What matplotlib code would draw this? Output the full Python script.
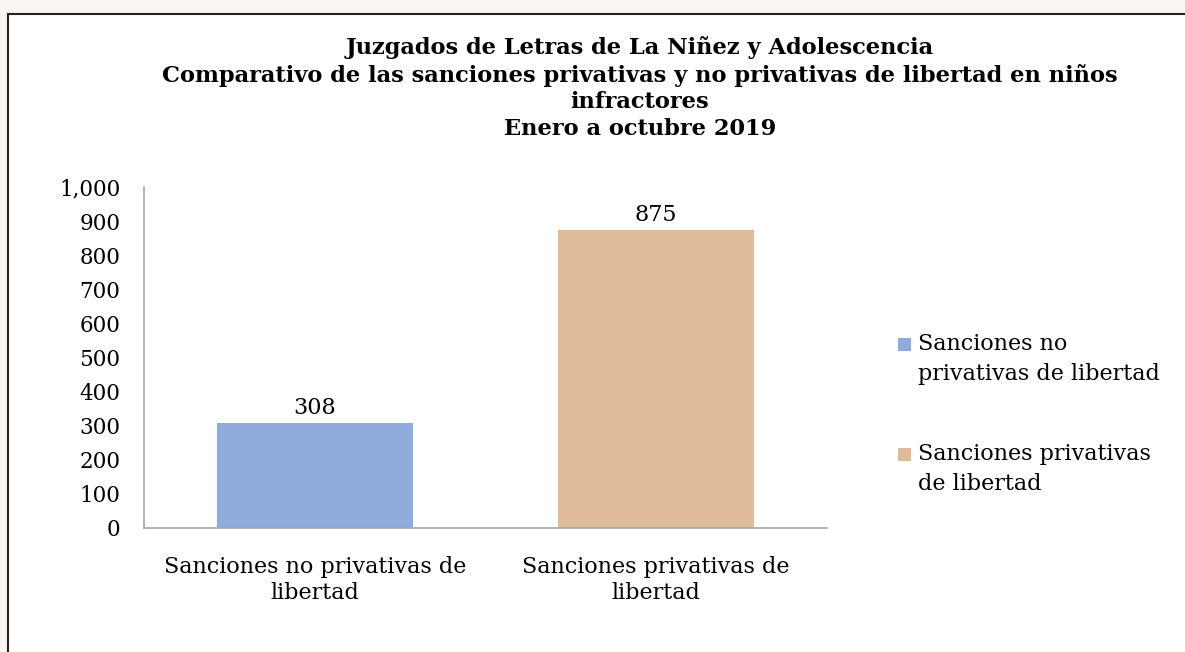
import matplotlib
matplotlib.use('Agg')
from matplotlib import pyplot as plt
from matplotlib.patches import Rectangle
from matplotlib.ticker import FuncFormatter

# chart data
categories = ['Sanciones no privativas de\nlibertad', 'Sanciones privativas de\nlibertad']
legend_labels = ['Sanciones no\nprivativas de libertad', 'Sanciones privativas\nde libertad']
values = [308, 875]
colors = ['#8faadc', '#dfbb9a']
title = ('Juzgados de Letras de La Niñez y Adolescencia\n'
         'Comparativo de las sanciones privativas y no privativas de libertad en niños\n'
         'infractores\n'
         'Enero a octubre 2019')

plt.rcParams['font.family'] = ['DejaVu Serif']
W, H = 1185, 652

fig = plt.figure(figsize=(W / 100, H / 100), dpi=100)
fig.patch.set_facecolor('#f9f5f2')
# chart area box (runs off the right and bottom edge)
fig.patches.append(Rectangle((8 / W, -0.1), 1.2, 1.1 - 14 / H, transform=fig.transFigure,
                             facecolor='white', edgecolor='#222222', linewidth=1.5, zorder=-5))

ax = fig.add_axes([144 / W, 124 / H, 683 / W, 341 / H])
ax.set_facecolor('none')
x = range(len(values))
bars = ax.bar(x, values, width=0.574, color=colors)
ax.set_xlim(-0.5, 1.5)
ax.set_ylim(0, 1000)
ax.set_yticks(range(0, 1001, 100))
ax.yaxis.set_major_formatter(FuncFormatter(lambda v, p: f'{int(v):,}'))
ax.set_xticks(list(x))
ax.set_xticklabels(categories, fontsize=16, linespacing=1.25)
ax.tick_params(axis='y', length=0, pad=17, labelsize=15.5)
ax.tick_params(axis='x', length=0, pad=20)
for s in ['top', 'right']:
    ax.spines[s].set_visible(False)
for s in ['left', 'bottom']:
    ax.spines[s].set_color('#a6a6a6')
    ax.spines[s].set_linewidth(1.2)

for b, v in zip(bars, values):
    ax.text(b.get_x() + b.get_width() / 2, v + 12, str(v), ha='center', va='bottom', fontsize=16)

fig.text(640 / W, 1 - 36 / H, title, ha='center', va='top', fontsize=16.2,
         fontweight='bold', linespacing=1.26)

# legend: square aligned with the first line of each entry
for i, (lab, c) in enumerate(zip(legend_labels, colors)):
    top = 333 + i * 110
    fig.patches.append(Rectangle((898 / W, 1 - (top + 18) / H), 13 / W, 13 / H,
                                 transform=fig.transFigure, facecolor=c, edgecolor='none'))
    fig.text(918 / W, 1 - top / H, lab, ha='left', va='top', fontsize=16, linespacing=1.45)

plt.savefig('out.png', dpi=100, facecolor=fig.get_facecolor())
